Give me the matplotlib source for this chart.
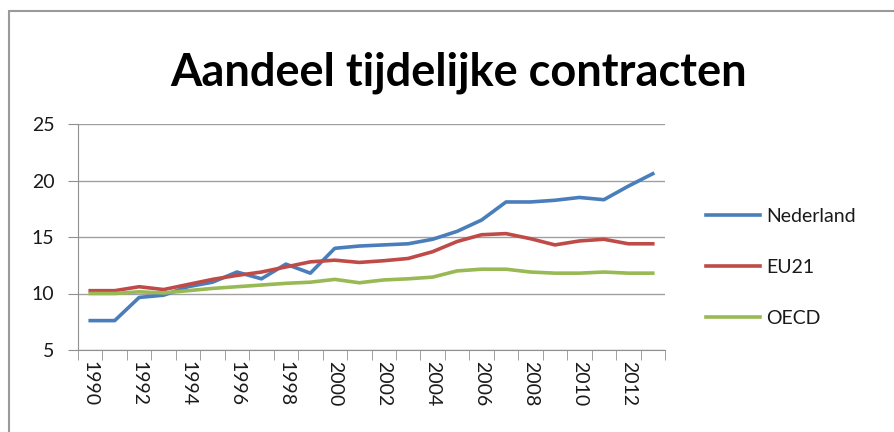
import matplotlib
matplotlib.use("Agg")
from matplotlib import pyplot as plt
from matplotlib.patches import Rectangle

years = list(range(1990, 2014))
nederland = [7.6, 7.6, 9.65, 9.85, 10.6, 11.0, 11.9, 11.3, 12.6, 11.8, 14.0, 14.2,
             14.3, 14.4, 14.8, 15.5, 16.5, 18.1, 18.1, 18.25, 18.5, 18.3, 19.5, 20.6]
eu21 = [10.25, 10.25, 10.6, 10.35, 10.8, 11.25, 11.6, 11.9, 12.35, 12.8, 12.95, 12.75,
        12.9, 13.1, 13.7, 14.6, 15.2, 15.3, 14.85, 14.3, 14.65, 14.8, 14.4, 14.4]
oecd = [10.0, 10.0, 10.15, 10.05, 10.25, 10.45, 10.6, 10.75, 10.9, 11.0, 11.25, 10.95,
        11.2, 11.3, 11.45, 12.0, 12.15, 12.15, 11.9, 11.8, 11.8, 11.9, 11.8, 11.8]
y_ticks = [5, 10, 15, 20, 25]

plt.rcParams["font.family"] = ["Lato", "DejaVu Sans"]

fig = plt.figure(figsize=(8.95, 4.32), dpi=100)
ax = fig.add_axes([78 / 895, 82 / 432, 587 / 895, 226 / 432])

# chart frame (left and top edges only visible)
fig.patches.append(Rectangle((9 / 895, -0.1), 1.2, (432 - 11) / 432 + 0.1,
                             transform=fig.transFigure, fill=False,
                             edgecolor="#9a9a9a", lw=1.5))

x = list(range(len(years)))
ax.plot(x, nederland, color="#4A7EBB", lw=2.6, label="Nederland")
ax.plot(x, eu21, color="#BE4B48", lw=2.6, label="EU21")
ax.plot(x, oecd, color="#98B954", lw=2.6, label="OECD")

ax.set_xlim(-0.5, len(years) - 0.5)
ax.set_ylim(5, 25)
ax.set_yticks(y_ticks)
ax.yaxis.grid(True, color="#a0a0a0", lw=1)
ax.set_axisbelow(True)

even = [i for i, y in enumerate(years) if y % 2 == 0]
ax.set_xticks(even)
ax.set_xticklabels([str(years[i]) for i in even], rotation=-90)
ax.set_xticks([i - 0.5 for i in range(len(years) + 1)], minor=True)
ax.tick_params(axis="x", which="major", length=0, pad=8, labelsize=14, labelcolor="#1a1a1a")
ax.tick_params(axis="x", which="minor", length=7, color="#909090")
ax.tick_params(axis="y", length=7, color="#909090", pad=10, labelsize=14, labelcolor="#1a1a1a")

for s in ["top", "right"]:
    ax.spines[s].set_visible(False)
for s in ["left", "bottom"]:
    ax.spines[s].set_color("#909090")

fig.text(0.512, 0.802, "Aandeel tijdelijke contracten", ha="center", va="baseline",
         fontsize=32.5, fontweight="bold", color="black")

ax.legend(loc="center left", bbox_to_anchor=(1.04, 0.367), frameon=False, fontsize=14,
          handlelength=2.8, handletextpad=0.3, labelspacing=1.75, labelcolor="#1a1a1a")

fig.savefig("out.png", dpi=100)
